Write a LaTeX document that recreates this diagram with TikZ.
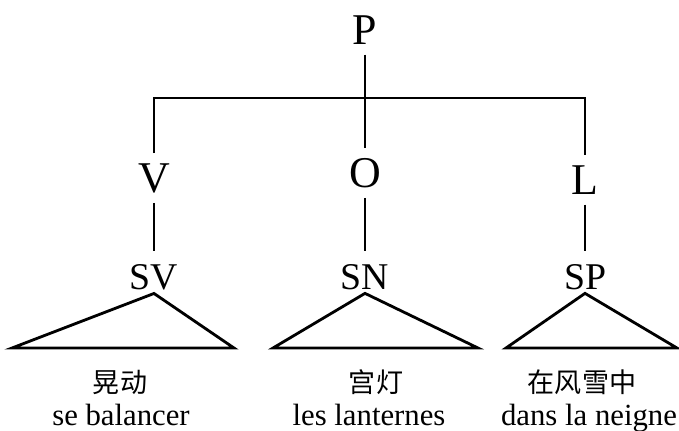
\documentclass[tikz,border=0pt]{standalone}
\usepackage{fontspec}
\setmainfont{Liberation Serif}
\newfontfamily\cjk{Noto Sans CJK SC}
\tikzset{
  fonct/.style={font=\fontsize{25}{28}\selectfont,inner sep=5pt},
  synt/.style={font=\fontsize{21.5}{24}\selectfont,inner sep=1pt},
  hanzi/.style={font=\cjk\fontsize{15.4}{18}\selectfont,inner sep=0pt},
  glose/.style={font=\fontsize{17.5}{20}\selectfont,inner sep=0pt,anchor=base},
  branche/.style={shorten >=6pt}
}

\begin{document}
\begin{tikzpicture}[x=0.02cm,y=-0.02cm,line width=1.6pt]
\useasboundingbox (0,0) rectangle (679,430);

\node[fonct] (P) at (365,30) {P};
\node[fonct] (V) at (154,178) {V};
\node[fonct] (O) at (365,173) {O};
\node[fonct] (L) at (585,180) {L};

\node[synt] (SV) at (154,277.5) {SV};
\node[synt] (SN) at (365,277.5) {SN};
\node[synt] (SP) at (585,277.5) {SP};

\coordinate (bar) at (365,98);
\coordinate (svl) at (12,348);   \coordinate (svr) at (234,348);
\coordinate (snl) at (273,348);  \coordinate (snr) at (478,348);
\coordinate (spl) at (506,348);  \coordinate (spr) at (677,348);

\draw (P) -- (O);
\draw (V) |- (bar) -| (L);
\draw[branche] (V) -- (SV);
\draw[branche] (O) -- (SN);
\draw[branche] (L) -- (SP);

\draw (SV.south) -- (svl) -- (svr) -- cycle;
\draw (SN.south) -- (snl) -- (snr) -- cycle;
\draw (SP.south) -- (spl) -- (spr) -- cycle;

\node[hanzi] (zv) at (120,382) {晃动};
\node[hanzi] (zn) at (376,382) {宫灯};
\node[hanzi] (zp) at (582,382) {在风雪中};

\node[glose] (fv) at (121,425) {se balancer};
\node[glose] (fn) at (369,425) {les lanternes};
\node[glose] (fp) at (589,425) {dans la neigne};

\end{tikzpicture}
\end{document}
